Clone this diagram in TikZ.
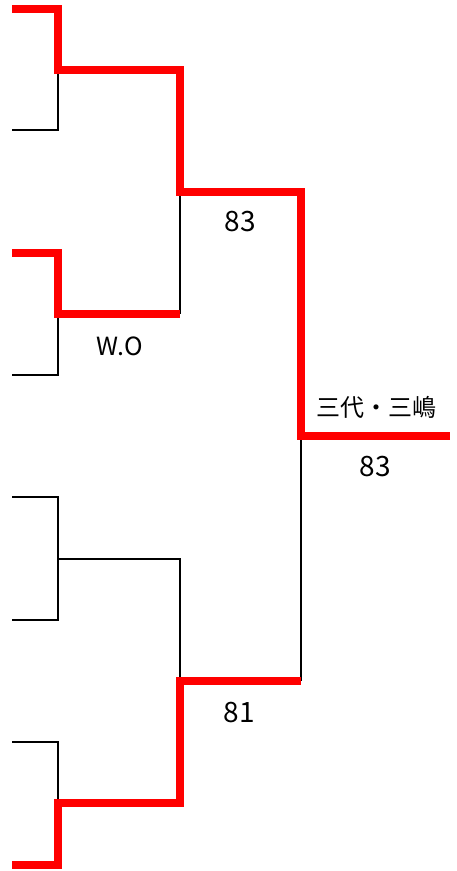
\documentclass[tikz,border=0pt]{standalone}
\usepackage{fontspec}
\newfontfamily\jp{Noto Sans CJK JP}
\begin{document}
\begin{tikzpicture}[x=1pt,y=-1pt,
  win/.style={draw=red,line width=8pt,miter limit=10},
  lose/.style={draw=black,line width=2.2pt},
  lbl/.style={font=\jp\fontsize{28}{30}\selectfont,inner sep=0pt},
  teamlbl/.style={font=\jp\fontsize{24}{26}\selectfont,inner sep=0pt},
  wolbl/.style={font=\jp\fontsize{25}{27}\selectfont,inner sep=0pt}]
\useasboundingbox (0,0) rectangle (456,871);
% leaves
\coordinate (l1) at (12,9);
\coordinate (l2) at (12,130);
\coordinate (l3) at (12,253);
\coordinate (l4) at (12,375);
\coordinate (l5) at (12,497);
\coordinate (l6) at (12,620);
\coordinate (l7) at (12,742);
\coordinate (l8) at (12,865);
% round 1 joints
\coordinate (a1) at (58,70);
\coordinate (a2) at (58,314);
\coordinate (a3) at (58,559);
\coordinate (a4) at (58,803);
% round 2 joints
\coordinate (b1) at (180,192);
\coordinate (b2) at (180,681);
% final
\coordinate (c1) at (301,436);
\coordinate (f) at (450,436);
% black lines
\draw[lose] (l2) -| (a1);
\draw[lose] (l4) -| (a2);
\draw[lose] (l5) -| (a3);
\draw[lose] (l6) -| (a3);
\draw[lose] (l7) -| (a4);
\draw[lose] (a3) -| (b2);
\draw[lose] (a2 -| b1) -- (b1);
\draw[lose] (c1) -- (b2 -| c1);
% red lines
\draw[win] (l1) -| (a1) -| (b1) -| (c1) -- (f);
\draw[win] (l3) -| (a2) -- (a2 -| b1);
\draw[win] (l8) -| (a4) -| (b2) -- (b2 -| c1);
% labels
\node[lbl] (s1) at (240,222) {83};
\node[wolbl] (s2) at (120,346) {W.O};
\node[lbl] (s3) at (239,713) {81};
\node[teamlbl] (nm) at (376,407) {三代・三嶋};
\node[lbl] (s4) at (375,467) {83};
\end{tikzpicture}
\end{document}
